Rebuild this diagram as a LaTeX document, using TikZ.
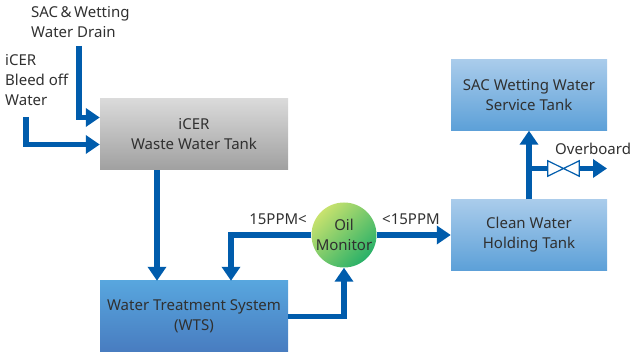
\documentclass[tikz,border=0pt]{standalone}
\usepackage{fontspec}
\setmainfont{Noto Sans}
\usepackage{tikz}
\usetikzlibrary{arrows.meta}
\usetikzlibrary{positioning}
\usepackage{xcolor}

\definecolor{pipeblue}{RGB}{0,92,172}
\definecolor{txtgray}{RGB}{48,48,48}
\definecolor{grayA}{RGB}{218,218,218}
\definecolor{grayB}{RGB}{160,160,160}
\definecolor{wtsA}{RGB}{88,166,222}
\definecolor{wtsB}{RGB}{72,124,192}
\definecolor{cleanA}{RGB}{170,204,235}
\definecolor{cleanB}{RGB}{92,160,216}
\definecolor{oilA}{RGB}{200,226,110}
\definecolor{oilB}{RGB}{40,176,104}

\begin{document}
\begin{tikzpicture}[x=1pt, y=-1pt,
  every node/.style={font=\fontsize{15}{20}\selectfont, text=txtgray},
  tank/.style={minimum width=188pt, minimum height=71pt, align=center, inner sep=0pt},
  pipe/.style={draw=pipeblue, line width=5.5pt, -{Triangle[length=14pt,width=18pt]}},
  valvebox/.style={draw=pipeblue, fill=white, line width=1.2pt, line join=miter}]

\useasboundingbox (0,0) rectangle (632,352);

% tanks
\node[tank, top color=grayA, bottom color=grayB] (waste) at (194,134.5) {iCER\\Waste Water Tank};
\node[tank, top color=wtsA, bottom color=wtsB] (wts) at (194,316.5) {Water Treatment System\\(WTS)};
\node[tank, minimum width=156pt, top color=cleanA, bottom color=cleanB] (clean) at (529,235) {Clean Water\\Holding Tank};
\node[tank, minimum width=156pt, top color=cleanA, bottom color=cleanB] (sac) at (529,95) {SAC Wetting Water\\Service Tank};
\node[circle, minimum size=65pt, inner sep=0pt, align=center,
      top color=oilA, bottom color=oilB, shading angle=45] (oil) at (344,235) {Oil\\Monitor};

% inlets
\node[anchor=north west, align=left, inner sep=0pt] (draintxt) at (31,6) {SAC\,\&\,Wetting\\Water Drain};
\node[anchor=north west, align=left, inner sep=0pt] (bleedtxt) at (5,54) {iCER\\Bleed off\\Water};
\coordinate (drain) at (79,46);
\coordinate (bleed) at (26,117);

\draw[pipe] (drain) |- ([yshift=17pt]waste.west);
\draw[pipe] (bleed) |- ([yshift=-10pt]waste.west);
\draw[pipe] ([xshift=-37pt]waste.south) -- ([xshift=-37pt]wts.north);

% oil monitor loop
\draw[pipe] (wts.east) -| (oil.south);
\draw[pipe] (oil.west) -| ([xshift=37pt]wts.north);
\draw[pipe] (oil.east) -- (clean.west);
\node[anchor=base east, inner sep=0pt] (highppm) at (307,225) {15PPM<};
\node[anchor=base west, inner sep=0pt] (lowppm) at (382,225) {<15PPM};

% outlet
\draw[pipe] (clean.north) -- (sac.south);
\node[minimum width=31pt, minimum height=15pt, inner sep=0pt] (valve) at (563.5,168.5) {};
\coordinate (tee) at (clean.north |- valve);
\coordinate (board) at (607,168.5);
\draw[pipe, -] (tee) -- (valve.west);
\draw[pipe] (valve.east) -- (board);
\draw[valvebox] (valve.south west) -- (valve.north west) -- (valve.south east) -- (valve.north east) -- cycle;
\node[anchor=base west, inner sep=0pt] (boardtxt) at (555,155) {Overboard};
\end{tikzpicture}
\end{document}
